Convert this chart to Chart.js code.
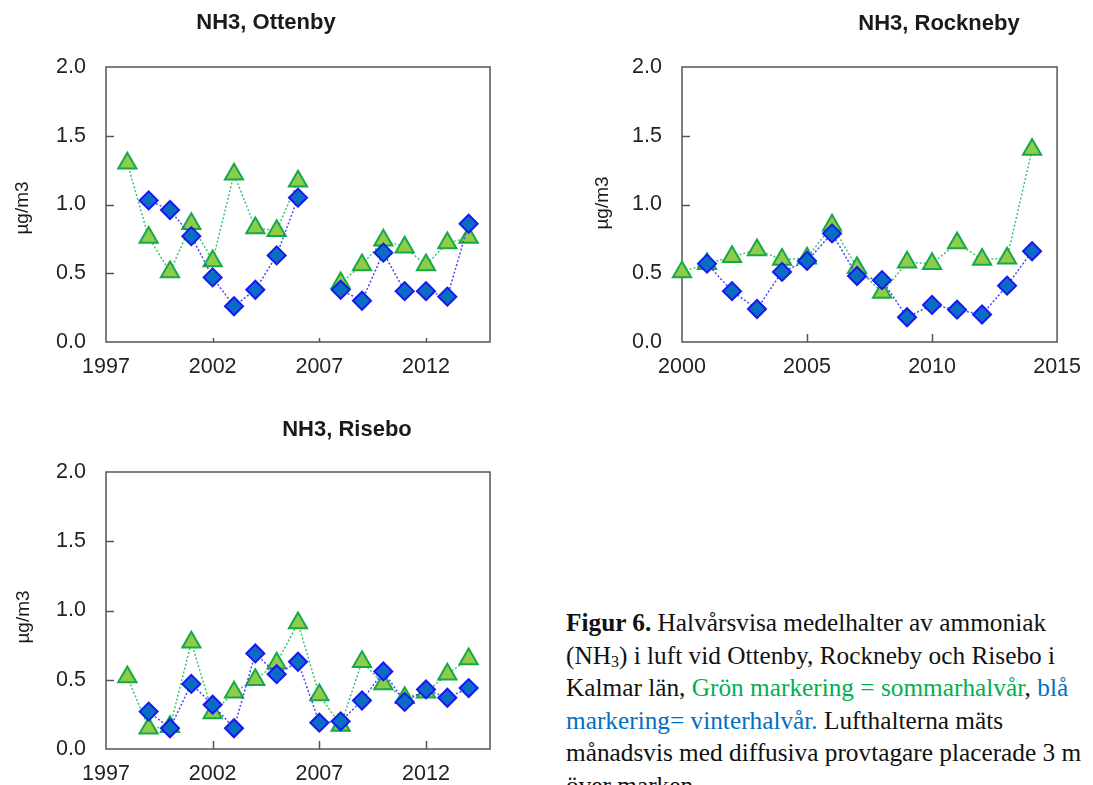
<!DOCTYPE html>
<html>
<head>
<meta charset="utf-8">
<script src="https://cdn.jsdelivr.net/npm/chart.js@4.4.1/dist/chart.umd.min.js"></script>
<style>
  html, body { margin: 0; padding: 0; background: #fff; width: 1093px; height: 785px; overflow: hidden; }
  canvas { position: absolute; }
  #caption {
    position: absolute; left: 566px; top: 606px;
    font-family: "Liberation Serif", "Times New Roman", serif;
    font-size: 25.3px; line-height: 32.6px; color: #111; white-space: nowrap;
  }
  #caption sub { font-size: 16px; line-height: 0; vertical-align: -3px; }
  .green { color: #00B050; }
  .blue { color: #0070C0; }
</style>
</head>
<body>
<canvas id="ottenby" width="540" height="395" style="left:0;top:0"></canvas>
<canvas id="rockneby" width="533" height="395" style="left:560px;top:0"></canvas>
<canvas id="risebo" width="540" height="385" style="left:0;top:400px"></canvas>
<div id="caption">
  <b>Figur 6.</b> Halvårsvisa medelhalter av ammoniak<br>
  (NH<sub>3</sub>) i luft vid Ottenby, Rockneby och Risebo i<br>
  Kalmar län, <span class="green">Grön markering = sommarhalvår</span>, <span class="blue">blå<br>
  markering= vinterhalvår.</span> Lufthalterna mäts<br>
  månadsvis med diffusiva provtagare placerade 3 m<br>
  över marken.
</div>
<script>
// Half-year mean NH3 concentrations (µg/m3); null = no measurement
const ottenbyYears  = [1998, 1999, 2000, 2001, 2002, 2003, 2004, 2005, 2006, 2007, 2008, 2009, 2010, 2011, 2012, 2013, 2014];
const ottenbySummer = [1.30, 0.76, 0.51, 0.86, 0.59, 1.22, 0.83, 0.81, 1.17, null, 0.43, 0.56, 0.74, 0.69, 0.56, 0.72, 0.76];
const ottenbyWinter = [null, 1.03, 0.96, 0.77, 0.47, 0.26, 0.38, 0.63, 1.05, null, 0.38, 0.30, 0.65, 0.37, 0.37, 0.33, 0.86];
const ottenbyTicks  = [1997, 2002, 2007, 2012];

const rocknebyYears  = [2000, 2001, 2002, 2003, 2004, 2005, 2006, 2007, 2008, 2009, 2010, 2011, 2012, 2013, 2014];
const rocknebySummer = [0.51, 0.57, 0.62, 0.67, 0.60, 0.61, 0.85, 0.54, 0.36, 0.58, 0.57, 0.72, 0.60, 0.61, 1.40];
const rocknebyWinter = [null, 0.57, 0.37, 0.24, 0.51, 0.59, 0.79, 0.48, 0.45, 0.18, 0.27, 0.235, 0.20, 0.41, 0.66];
const rocknebyTicks  = [2000, 2005, 2010, 2015];

const riseboYears  = [1998, 1999, 2000, 2001, 2002, 2003, 2004, 2005, 2006, 2007, 2008, 2009, 2010, 2011, 2012, 2013, 2014];
const riseboSummer = [0.52, 0.15, 0.16, 0.77, 0.26, 0.41, 0.50, 0.62, 0.91, 0.39, 0.17, 0.63, 0.47, 0.37, 0.41, 0.54, 0.65];
const riseboWinter = [null, 0.27, 0.15, 0.47, 0.32, 0.15, 0.69, 0.54, 0.63, 0.19, 0.20, 0.35, 0.56, 0.34, 0.43, 0.37, 0.44];
const riseboTicks  = [1997, 2002, 2007, 2012];

const concTicks = [0, 0.5, 1.0, 1.5, 2.0];
const unitLabel = 'µg/m3';

const SANS = '"Liberation Sans", Arial, Helvetica, sans-serif';

// Plot frame, inward tick marks, panel title and unit label
const panelDecor = {
  id: 'panelDecor',
  beforeDatasetsDraw(chart, args, opts) {
    const { ctx, chartArea: a, scales } = chart;
    ctx.save();
    ctx.strokeStyle = '#555';
    ctx.lineWidth = 1.5;
    ctx.strokeRect(a.left, a.top, a.right - a.left, a.bottom - a.top);
    ctx.beginPath();
    scales.y.ticks.forEach(t => {
      if (t.value > scales.y.min && t.value < scales.y.max) {
        const py = Math.round(scales.y.getPixelForValue(t.value)) + 0.5;
        ctx.moveTo(a.left, py);
        ctx.lineTo(a.left + 8, py);
      }
    });
    scales.x.ticks.forEach(t => {
      if (t.value > scales.x.min && t.value < scales.x.max) {
        const px = Math.round(scales.x.getPixelForValue(t.value)) + 0.5;
        ctx.moveTo(px, a.bottom);
        ctx.lineTo(px, a.bottom - opts.xTickLen);
      }
    });
    ctx.stroke();
    ctx.restore();
  },
  afterDraw(chart, args, opts) {
    const ctx = chart.ctx;
    ctx.save();
    ctx.fillStyle = '#1a1a1a';
    ctx.textAlign = 'center';
    ctx.textBaseline = 'middle';
    ctx.font = 'bold 22px ' + SANS;
    ctx.fillText(opts.title, opts.titleX, opts.titleY);
    ctx.translate(opts.unitX, opts.unitY);
    ctx.rotate(-Math.PI / 2);
    ctx.font = '19px ' + SANS;
    ctx.fillText(unitLabel, 0, 0);
    ctx.restore();
  }
};

function pairs(years, values) {
  return years.map((y, i) => ({ x: y, y: values[i] }));
}

function makePanel(id, cfg) {
  const summerStyle = {
    borderColor: '#3CC46E', borderWidth: 1.5, borderDash: [2, 2],
    pointStyle: 'triangle', pointRadius: 10.5, pointHoverRadius: 10.5,
    pointBackgroundColor: '#8FCC4A', pointBorderColor: '#17A84A', pointBorderWidth: 2
  };
  const winterStyle = {
    borderColor: '#4646F2', borderWidth: 1.5, borderDash: [2, 2],
    pointStyle: 'rectRot', pointRadius: 9, pointHoverRadius: 9,
    pointBackgroundColor: '#0A6CC4', pointBorderColor: '#1818F0', pointBorderWidth: 2
  };
  return new Chart(document.getElementById(id), {
    type: 'line',
    data: {
      datasets: [
        Object.assign({ label: 'vinterhalvår', data: pairs(cfg.years, cfg.winter) }, winterStyle),
        Object.assign({ label: 'sommarhalvår', data: pairs(cfg.years, cfg.summer) }, summerStyle)
      ]
    },
    options: {
      responsive: false,
      animation: false,
      spanGaps: false,
      clip: false,
      layout: { padding: cfg.padding },
      plugins: {
        legend: { display: false },
        tooltip: { enabled: false },
        panelDecor: cfg.decor
      },
      scales: {
        x: {
          type: 'linear',
          min: cfg.xTicks[0],
          max: cfg.xMax,
          afterBuildTicks: s => { s.ticks = cfg.xTicks.map(v => ({ value: v })); },
          afterFit: s => { s.height = cfg.xHeight; },
          grid: { display: false, drawTicks: false },
          border: { display: false },
          ticks: {
            autoSkip: false, maxRotation: 0, padding: 12,
            color: '#222', font: { family: SANS, size: 21.5 },
            callback: v => String(v)
          }
        },
        y: {
          type: 'linear',
          min: concTicks[0],
          max: concTicks[concTicks.length - 1],
          afterBuildTicks: s => { s.ticks = concTicks.map(v => ({ value: v })); },
          afterFit: s => { s.width = cfg.yWidth; },
          grid: { display: false, drawTicks: false },
          border: { display: false },
          ticks: {
            padding: 20, color: '#222', font: { family: SANS, size: 21.5 },
            callback: v => Number(v).toFixed(1)
          }
        }
      }
    },
    plugins: [panelDecor]
  });
}

makePanel('ottenby', {
  years: ottenbyYears, summer: ottenbySummer, winter: ottenbyWinter,
  xTicks: ottenbyTicks, xMax: 2015,
  padding: { top: 67, right: 50, bottom: 0, left: 0 }, yWidth: 106, xHeight: 53,
  decor: { title: 'NH3, Ottenby', titleX: 266, titleY: 23, unitX: 23, unitY: 208, xTickLen: 4 }
});

makePanel('rockneby', {
  years: rocknebyYears, summer: rocknebySummer, winter: rocknebyWinter,
  xTicks: rocknebyTicks, xMax: 2015,
  padding: { top: 67, right: 27, bottom: 0, left: 0 }, yWidth: 122, xHeight: 53,
  decor: { title: 'NH3, Rockneby', titleX: 379, titleY: 24, unitX: 43, unitY: 203, xTickLen: 8 }
});

makePanel('risebo', {
  years: riseboYears, summer: riseboSummer, winter: riseboWinter,
  xTicks: riseboTicks, xMax: 2015,
  padding: { top: 72, right: 50, bottom: 0, left: 0 }, yWidth: 106, xHeight: 36,
  decor: { title: 'NH3, Risebo', titleX: 347, titleY: 30, unitX: 24, unitY: 217, xTickLen: 8 }
});
</script>
</body>
</html>
